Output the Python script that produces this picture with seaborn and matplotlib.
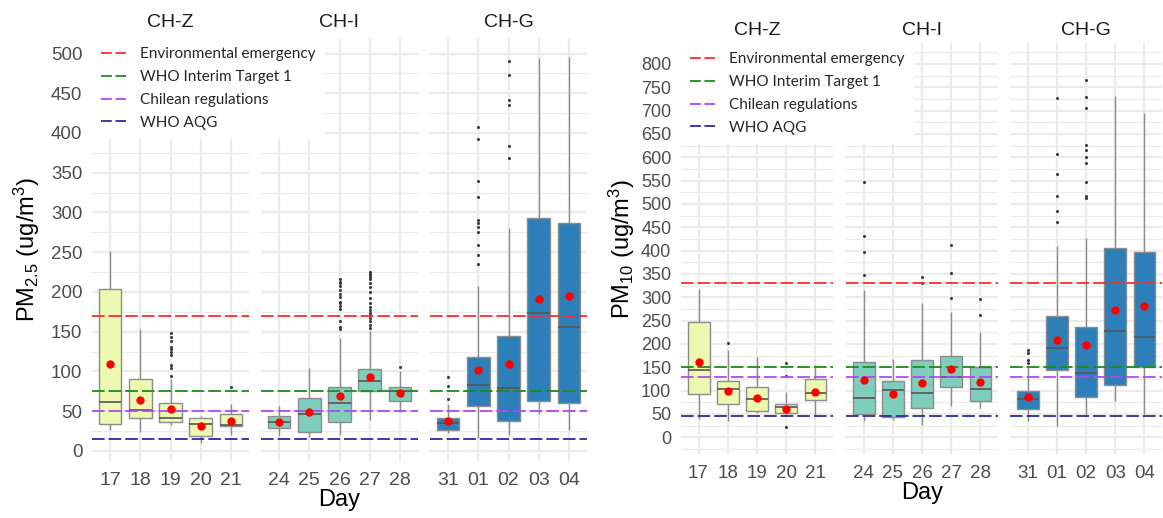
import numpy as np
import pandas as pd
import matplotlib
matplotlib.use("Agg")
import matplotlib.pyplot as plt
from matplotlib.ticker import MultipleLocator
from matplotlib.lines import Line2D
import seaborn as sns

# ------------------------------------------------------------------
# data
# ------------------------------------------------------------------
stations = ["CH-Z", "CH-I", "CH-G"]
days_z = ["17", "18", "19", "20", "21"]
days_i = ["24", "25", "26", "27", "28"]
days_g = ["31", "01", "02", "03", "04"]
all_days = days_z + days_i + days_g
station_colors = ["#edf8b1", "#7fcdbb", "#2c7fb8"]

# PM2.5 box summaries, same order as all_days
pm25_low = [26, 24, 33, 10, 20, 19, 18, 20, 39, 49, 23, 16, 20, 46, 27]
pm25_q1 = [34, 42, 37, 19, 31, 28.5, 24, 37, 76, 63, 27, 57, 38, 63, 60]
pm25_med = [62, 52, 41, 34, 33, 37, 47, 60, 88, 75, 35, 83, 79, 174, 156]
pm25_q3 = [204, 91, 60, 41, 46, 43.5, 67, 81, 103, 80, 42, 118, 145, 293, 287]
pm25_high = [252, 153, 90, 44, 59, 56, 104, 142, 151, 100, 59, 207, 281, 494, 495]
pm25_mean = [110, 64.5, 52.4, 31.4, 37.7, 37, 49.4, 69.6, 93.5, 72.5, 37.7, 102, 110, 191.6, 195]
pm25_outliers = {
    "19": [149, 143, 138, 131, 128, 125, 121, 108, 104, 94],
    "21": [80],
    "26": [216, 213, 211, 208, 203, 198, 194, 188, 186, 182, 179, 163, 156, 153],
    "27": [225, 223, 221, 219, 216, 211, 206, 200, 192, 186, 181, 177, 174, 171,
           167, 163, 158, 155],
    "28": [106],
    "31": [65, 82, 93],
    "01": [408, 393, 339, 319, 291, 287, 282, 276, 259, 246, 235],
    "02": [490, 473, 442, 435, 384, 369],
}

# PM10 box summaries
pm10_low = [38, 34, 52, 46, 48, 34, 36, 26, 66, 62, 34, 25, 46, 78, 50]
pm10_q1 = [92, 71, 56, 51, 79, 50, 43, 62, 107, 78, 61, 144, 86, 112, 151]
pm10_med = [143, 103, 81, 64, 94, 84, 101, 94, 130, 103, 81, 191, 137, 228, 214]
pm10_q3 = [248, 121, 107, 71, 124, 161, 121, 165, 173, 150, 99, 260, 237, 405, 396]
pm10_high = [317, 187, 171, 96, 155, 316, 168, 288, 269, 226, 150, 410, 428, 732, 696]
pm10_mean = [161, 98, 85, 61, 97, 123, 92, 116, 146, 118, 86, 208, 198, 273, 282]
pm10_outliers = {
    "18": [203],
    "20": [160, 132, 21],
    "24": [548, 431, 398, 348],
    "26": [343, 330],
    "27": [411, 353, 298],
    "28": [297, 262],
    "31": [186, 181, 166, 160],
    "01": [728, 607, 564, 516, 485, 462],
    "02": [766, 730, 706, 626, 616, 601, 588, 546, 516, 512],
}

limit_names = ["Environmental emergency", "WHO Interim Target 1",
               "Chilean regulations", "WHO AQG"]
limit_colors = ["#ff2b2b", "#1f8a1f", "#b048f2", "#2b2ba3"]
pm25_limits = [170, 75, 50, 15]
pm10_limits = [330, 150, 130, 45]

# ------------------------------------------------------------------
# style
# ------------------------------------------------------------------
sns.set_style("white")
plt.rcParams["font.family"] = ["Liberation Sans", "DejaVu Sans"]
plt.rcParams["mathtext.default"] = "regular"
GRID = "#ebebeb"
TICK = "#4d4d4d"


def long_table(low, q1, med, q3, high):
    rows = []
    for k, d in enumerate(all_days):
        st = stations[k // 5]
        for v in (low[k], q1[k], med[k], q3[k], high[k]):
            rows.append((st, d, v))
    return pd.DataFrame(rows, columns=["station", "day", "value"])


W, H = 1163, 518
fig = plt.figure(figsize=(W / 100, H / 100), dpi=100)


def px_axes(x0, x1, top, bottom, sharey=None):
    return fig.add_axes([x0 / W, 1 - bottom / H, (x1 - x0) / W, (bottom - top) / H],
                        sharey=sharey)


panels = [
    dict(df=long_table(pm25_low, pm25_q1, pm25_med, pm25_q3, pm25_high),
         mean=pm25_mean, out=pm25_outliers, limits=pm25_limits,
         xs=[(92, 249), (261, 418), (430, 587)], top=38, bottom=461,
         ylim=(-12.6, 519.5), ymax=500, label="PM$_{2.5}$ (ug/m$^3$)",
         fs=13.5, xfs=14, legend_box=(92, 38), title_pad=8, ylpad=6),
    dict(df=long_table(pm10_low, pm10_q1, pm10_med, pm10_q3, pm10_high),
         mean=pm10_mean, out=pm10_outliers, limits=pm10_limits,
         xs=[(681, 833), (846, 998), (1010, 1162)], top=43, bottom=454,
         ylim=(-36, 845), ymax=800, label="PM$_{10}$ (ug/m$^3$)",
         fs=13, xfs=13.5, legend_box=(681, 43), title_pad=6, ylpad=3),
]

for p in panels:
    first = None
    for si, st in enumerate(stations):
        x0, x1 = p["xs"][si]
        ax = px_axes(x0, x1, p["top"], p["bottom"], sharey=first)
        if first is None:
            first = ax
        days = all_days[si * 5:(si + 1) * 5]
        sub = p["df"][p["df"]["station"] == st]

        sns.boxplot(data=sub, x="day", y="value", order=days, ax=ax,
                    color=station_colors[si], saturation=1, width=0.75,
                    whis=(0, 100), showfliers=False, showcaps=False,
                    linecolor="#8c8c8c", linewidth=1,
                    medianprops=dict(color="#555555", linewidth=1.2))

        fx, fy = [], []
        for d in days:
            for v in p["out"].get(d, []):
                fx.append(d)
                fy.append(v)
        if fx:
            sns.stripplot(x=fx, y=fy, order=days, jitter=False, color="#3a3a3a",
                          size=2.2, ax=ax, zorder=3)

        for name, c, v in zip(limit_names, limit_colors, p["limits"]):
            ax.axhline(v, color=c, lw=1.3, dashes=(7, 2.2), zorder=4)

        means = p["mean"][si * 5:(si + 1) * 5]
        sns.stripplot(x=days, y=means, order=days, jitter=False, color="red",
                      size=6, ax=ax, zorder=5)

        ax.set_xlim(-0.6, 4.6)
        ax.set_ylim(*p["ylim"])
        ax.set_yticks(np.arange(0, p["ymax"] + 1, 50))
        ax.yaxis.set_minor_locator(MultipleLocator(25))
        ax.set_axisbelow(True)
        ax.grid(True, which="major", color=GRID, lw=1.6)
        ax.yaxis.grid(True, which="minor", color=GRID, lw=0.9)
        for s in ax.spines.values():
            s.set_visible(False)
        ax.tick_params(which="both", length=0, labelsize=p["fs"], colors=TICK)
        ax.tick_params(axis="x", pad=8, labelsize=p["xfs"])
        ax.tick_params(axis="y", pad=7)
        ax.set_title(st, fontsize=14, color="#1a1a1a", pad=p["title_pad"])
        ax.set_xlabel("Day" if si == 1 else "", fontsize=17, color="black", labelpad=0)
        if si == 0:
            ax.set_ylabel(p["label"], fontsize=17, color="black", labelpad=p["ylpad"])
        else:
            ax.set_ylabel("")
            ax.tick_params(labelleft=False)

    handles = [Line2D([0], [0], color=c, lw=1.3, dashes=(6, 2)) for c in limit_colors]
    lx, ly = p["legend_box"]
    leg = fig.legend(handles, limit_names, loc="upper left",
                     bbox_to_anchor=(lx / W, 1 - ly / H), borderaxespad=0,
                     frameon=True, fancybox=False, framealpha=1,
                     facecolor="white", edgecolor="none",
                     prop=dict(family="Lato", size=11), handlelength=1.65,
                     handletextpad=0.9, labelspacing=0.58, borderpad=0.6)

fig.savefig("out.png", dpi=100)
